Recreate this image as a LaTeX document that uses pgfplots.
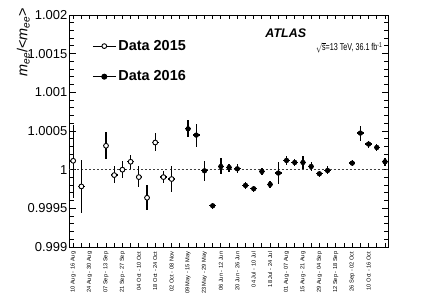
\documentclass[border=0pt]{standalone}
\usepackage{graphicx}
\usepackage{pgfplots}
\pgfplotsset{compat=1.18}
\usepackage{fontspec}
\setmainfont{Liberation Sans}
\usepackage{pgfplotstable}

\pgfplotstableread{
x y ep em ex
0 1.000115 0.000465 0.000478 0.4
1 0.999783 0.000345 0.000344 0.4
4 1.000309 0.000177 0.000172 0.4
5 0.999930 0.000111 0.000103 0.4
6 1.000000 0.000107 0.000107 0.4
7 1.000102 0.000090 0.000090 0.4
8 0.999904 0.000146 0.000134 0.4
9 0.999637 0.000168 0.000164 0.4
10 1.000351 0.000122 0.000116 0.4
11 0.999904 0.000073 0.000077 0.4
12 0.999879 0.000171 0.000174 0.4
}\dataA

\pgfplotstableread{
x y ep em ex
14 1.000528 0.000116 0.000112 0.4
15 1.000447 0.000146 0.000148 0.4
16 0.999985 0.000130 0.000129 0.4
17 0.999533 0.000036 0.000036 0.4
18 1.000041 0.000109 0.000098 0.4
19 1.000028 0.000048 0.000055 0.4
20 1.000011 0.000061 0.000055 0.4
21 0.999796 0.000050 0.000050 0.4
22 0.999753 0.000040 0.000040 0.4
23 0.999977 0.000045 0.000045 0.4
24 0.999809 0.000045 0.000045 0.4
25 0.999956 0.000142 0.000142 0.4
26 1.000119 0.000052 0.000060 0.4
27 1.000093 0.000050 0.000050 0.4
28 1.000093 0.000078 0.000082 0.4
29 1.000041 0.000057 0.000056 0.4
30 0.999947 0.000040 0.000040 0.4
31 0.999989 0.000052 0.000046 0.4
34 1.000085 0.000040 0.000040 0.4
35 1.000473 0.000094 0.000100 0.4
36 1.000331 0.000045 0.000045 0.4
37 1.000287 0.000040 0.000040 0.4
38 1.000102 0.000055 0.000061 0.4
}\dataB

\begin{document}
\begin{tikzpicture}
\useasboundingbox (-69.5bp,-48bp) rectangle (363.5bp,247bp);
\begin{axis}[
  at={(0,0)}, anchor=south west,
  scale only axis, width=319.2bp, height=232bp,
  xmin=-0.45, xmax=38.45, ymin=0.999, ymax=1.002,
  clip=false,
  axis line style={line width=0.9bp},
  every tick/.style={black, line width=0.9bp},
  major tick length=6.5bp, minor tick length=4.5bp,
  tick align=inside,
  xtick={0,2,...,36},
  minor xtick={0,...,38},
  major x tick style={draw=none},
  xticklabels={10 Aug - 16 Aug,24 Aug - 30 Aug,07 Sep - 13 Sep,21 Sep - 27 Sep,04 Oct - 10 Oct,18 Oct - 24 Oct,02 Oct - 08 Nov,09 May - 15 May,23 May - 29 May,06 Jun - 12 Jun,20 Jun - 26 Jun,04 Jul - 10 Jul,18 Jul - 24 Jul,01 Aug - 07 Aug,15 Aug - 21 Aug,29 Aug - 04 Sep,12 Sep - 18 Sep,26 Sep - 02 Oct,10 Oct - 16 Oct},
  xticklabel style={rotate=90, anchor=east, inner xsep=4.5bp, inner ysep=0pt, font=\fontsize{5.7}{6.5}\selectfont},
  ytick={0.999,0.9995,1,1.0005,1.001,1.0015,1.002},
  yticklabels={0.999,0.9995,1,1.0005,1.001,1.0015,1.002},
  minor y tick num=4,
  yticklabel style={font=\fontsize{13}{15}\selectfont, inner xsep=2bp},
  ylabel={\textit{m}\textsubscript{\textit{ee}}/<\textit{m}\textsubscript{\textit{ee}}>},
  ylabel style={at={(axis description cs:-0.1316,1.045)}, anchor=base east, font=\fontsize{14.5}{17}\selectfont},
  legend image code/.code={\draw[mark repeat=2,mark phase=2,#1] plot coordinates {(0bp,0bp) (11.5bp,0bp) (23bp,0bp)};},
  legend style={draw=none, fill=none, at={(axis description cs:0.0705,0.800)}, anchor=west, font=\fontsize{14.5}{17}\selectfont\bfseries, row sep=15bp, inner sep=0pt},
  legend cell align=left,
]
\addplot[forget plot, black!75, line width=0.6bp, dash pattern=on 2bp off 2bp] coordinates {(-0.45,1) (38.45,1)};

\addlegendimage{black, line width=1.2bp, mark=*, mark size=2.4bp, mark options={fill=white, solid, line width=0.9bp}}
\addlegendentry{Data 2015}
\addlegendimage{black, line width=1.2bp, mark=*, mark size=2.4bp, mark options={fill=black, solid}}
\addlegendentry{Data 2016}

\addplot[forget plot, only marks, mark=none,
  error bars/.cd, y dir=both, y explicit, x dir=both, x explicit,
  error bar style={line width=1.3bp, black}, error mark=none]
  table[x=x, y=y, y error plus=ep, y error minus=em, x error=ex] {\dataA};
\addplot[forget plot, only marks, mark=none,
  error bars/.cd, y dir=both, y explicit, x dir=both, x explicit,
  error bar style={line width=1.3bp, black}, error mark=none]
  table[x=x, y=y, y error plus=ep, y error minus=em, x error=ex] {\dataB};
\addplot[forget plot, only marks, mark=*, mark size=2.4bp, mark options={fill=white, draw=black, line width=0.9bp}]
  table[x=x, y=y] {\dataA};
\addplot[forget plot, only marks, mark=*, mark size=2.4bp, mark options={fill=black, draw=black}]
  table[x=x, y=y] {\dataB};

\node[anchor=base west, font=\fontsize{12.5}{15}\selectfont\bfseries\itshape] at (axis description cs:0.603,0.903) {ATLAS};
\node[anchor=base west, font=\fontsize{10}{12}\selectfont, inner sep=0pt] at (axis description cs:0.772,0.846) {\scalebox{0.72}[1]{$\sqrt{\hbox{s}}$=13 TeV, 36.1 fb\textsuperscript{-1}}};
\end{axis}
\end{tikzpicture}
\end{document}
